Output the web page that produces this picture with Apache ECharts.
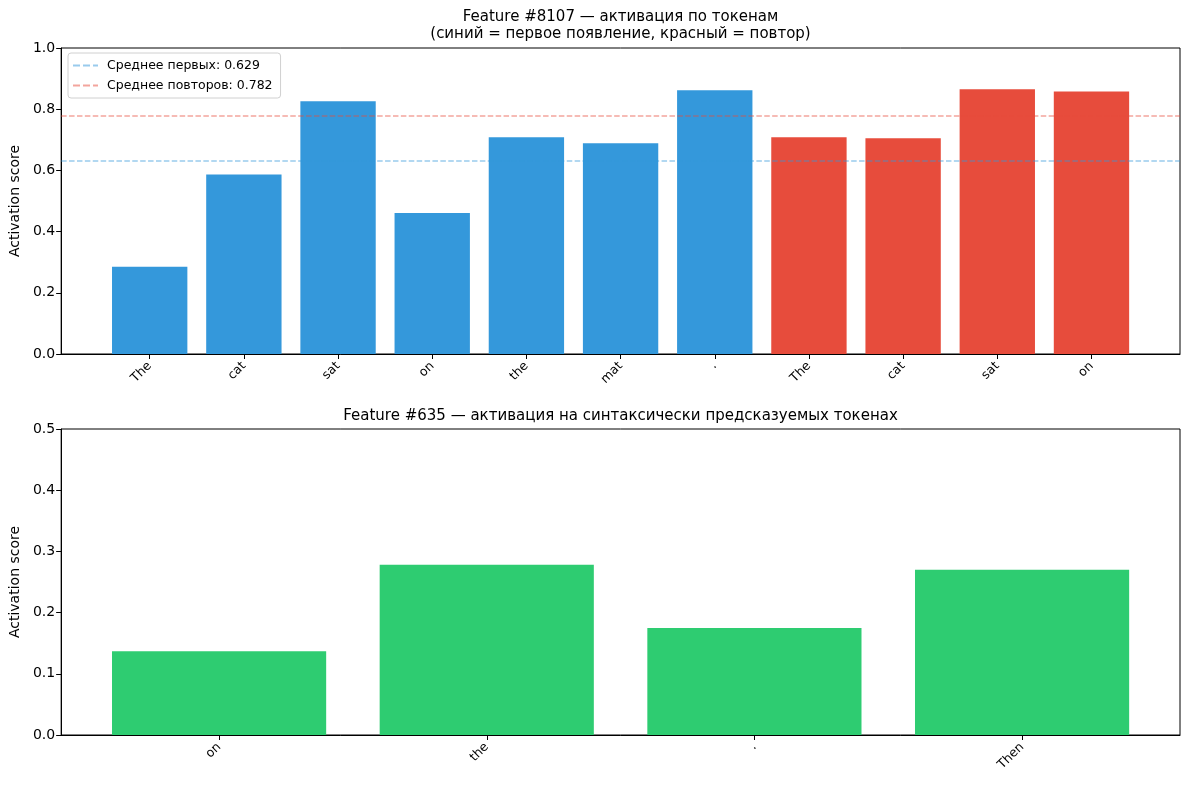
<!DOCTYPE html>
<html>
<head>
<meta charset="utf-8">
<script src="https://cdn.jsdelivr.net/npm/echarts@6/dist/echarts.min.js"></script>
<style>
html,body{margin:0;padding:0;background:#fff;}
#c{width:1189px;height:789px;}
</style>
</head>
<body>
<div id="c"></div>
<script>
// ---- data ----
const tokensTop = ['The', 'cat', 'sat', 'on', 'the', 'mat', '.', 'The', 'cat', 'sat', 'on'];
const scoresTop = [0.285, 0.587, 0.826, 0.461, 0.708, 0.689, 0.862, 0.708, 0.705, 0.865, 0.858];
const isRepeatTop = [0, 0, 0, 0, 0, 0, 0, 1, 1, 1, 1];
const meanFirst = 0.629;
const meanRepeat = 0.782;
const tokensBottom = ['on', 'the', '.', 'Then'];
const scoresBottom = [0.137, 0.278, 0.175, 0.270];
const yTicksTop = [0, 0.2, 0.4, 0.6, 0.8, 1.0];
const yTicksBottom = [0, 0.1, 0.2, 0.3, 0.4, 0.5];

// ---- layout helpers ----
const FONT = 'DejaVu Sans';
const plotLeft = 61, plotRight = 1180;
const plotW = plotRight - plotLeft;
function xRange(n) {
  const span = (n - 1) + 0.8;
  const m = 0.05 * span;
  return [-0.4 - m, n - 1 + 0.4 + m];
}
const rTop = xRange(tokensTop.length);
const rBot = xRange(tokensBottom.length);
const bwTop = 0.8 * plotW / (rTop[1] - rTop[0]);
const bwBot = 0.8 * plotW / (rBot[1] - rBot[0]);

function xAxisFor(gridIndex, tokens, r) {
  const idx = tokens.map((_, i) => i);
  return {
    type: 'value', gridIndex: gridIndex, min: r[0], max: r[1],
    axisLine: {show: true, onZero: false, lineStyle: {color: '#000', width: 1}},
    axisTick: {show: true, inside: false, customValues: idx, length: 5, lineStyle: {color: '#000'}},
    axisLabel: {show: true, customValues: idx, rotate: 45, margin: 10,
      fontFamily: FONT, fontSize: 12.5, color: '#000',
      formatter: v => tokens[Math.round(v)]},
    splitLine: {show: false}
  };
}
function yAxisFor(gridIndex, ticks) {
  return {
    type: 'value', gridIndex: gridIndex, min: ticks[0], max: ticks[ticks.length - 1],
    interval: ticks[1] - ticks[0],
    name: 'Activation score', nameLocation: 'middle', nameGap: 38,
    nameTextStyle: {fontFamily: FONT, fontSize: 14, color: '#000'},
    axisLine: {show: true, onZero: false, lineStyle: {color: '#000', width: 1}},
    axisTick: {show: true, inside: false, length: 5, lineStyle: {color: '#000'}},
    axisLabel: {fontFamily: FONT, fontSize: 14, color: '#000', margin: 6,
      formatter: v => v.toFixed(1)},
    splitLine: {show: false}
  };
}
const dashPath = 'path://M0,0h7v2h-7zM10,0h7v2h-7zM20,0h5v2h-5z';
const blueLine = 'rgba(52,152,219,0.5)';
const redLine = 'rgba(231,76,60,0.5)';

const option = {
  animation: false,
  backgroundColor: '#fff',
  title: [
    {text: 'Feature #8107 — активация по токенам\n(синий = первое появление, красный = повтор)',
     left: (plotLeft + plotRight) / 2, top: 9, textAlign: 'center', padding: 0,
     textStyle: {fontFamily: FONT, fontSize: 15, fontWeight: 'normal', color: '#000', lineHeight: 17}},
    {text: 'Feature #635 — активация на синтаксически предсказуемых токенах',
     left: (plotLeft + plotRight) / 2, top: 409, textAlign: 'center', padding: 0,
     textStyle: {fontFamily: FONT, fontSize: 15, fontWeight: 'normal', color: '#000'}}
  ],
  legend: {
    orient: 'vertical', left: 68, top: 53,
    backgroundColor: 'rgba(255,255,255,0.8)', borderColor: '#d0d0d0', borderWidth: 1, borderRadius: 3,
    padding: [6, 8, 6, 5], itemGap: 7, itemWidth: 25, itemHeight: 2,
    textStyle: {fontFamily: FONT, fontSize: 12.5, color: '#000', padding: [0, 0, 0, 4]},
    data: [
      {name: 'Среднее первых: ' + meanFirst.toFixed(3), icon: dashPath},
      {name: 'Среднее повторов: ' + meanRepeat.toFixed(3), icon: dashPath}
    ]
  },
  grid: [
    {left: plotLeft, right: 1189 - plotRight, top: 48, height: 306, show: true, borderColor: '#000', borderWidth: 1, backgroundColor: 'transparent'},
    {left: plotLeft, right: 1189 - plotRight, top: 429, height: 306, show: true, borderColor: '#000', borderWidth: 1, backgroundColor: 'transparent'}
  ],
  xAxis: [xAxisFor(0, tokensTop, rTop), xAxisFor(1, tokensBottom, rBot)],
  yAxis: [yAxisFor(0, yTicksTop), yAxisFor(1, yTicksBottom)],
  series: [
    {type: 'bar', xAxisIndex: 0, yAxisIndex: 0, barWidth: bwTop,
     data: scoresTop.map((v, i) => ({value: [i, v], itemStyle: {color: isRepeatTop[i] ? '#e74c3c' : '#3498db'}})),
     z: 2},
    {type: 'line', name: 'Среднее первых: ' + meanFirst.toFixed(3), xAxisIndex: 0, yAxisIndex: 0,
     data: [], itemStyle: {color: blueLine}, lineStyle: {color: blueLine},
     markLine: {silent: true, symbol: 'none', label: {show: false},
       lineStyle: {color: blueLine, width: 1.5, type: [5.5, 2.4]},
       data: [{yAxis: meanFirst}]}, z: 3},
    {type: 'line', name: 'Среднее повторов: ' + meanRepeat.toFixed(3), xAxisIndex: 0, yAxisIndex: 0,
     data: [], itemStyle: {color: redLine}, lineStyle: {color: redLine},
     markLine: {silent: true, symbol: 'none', label: {show: false},
       lineStyle: {color: redLine, width: 1.5, type: [5.5, 2.4]},
       data: [{yAxis: meanRepeat}]}, z: 3},
    {type: 'bar', xAxisIndex: 1, yAxisIndex: 1, barWidth: bwBot,
     itemStyle: {color: '#2ecc71'},
     data: scoresBottom.map((v, i) => [i, v])}
  ]
};
const chart = echarts.init(document.getElementById('c'), null, {renderer: 'canvas'});
chart.setOption(option);
</script>
</body>
</html>
